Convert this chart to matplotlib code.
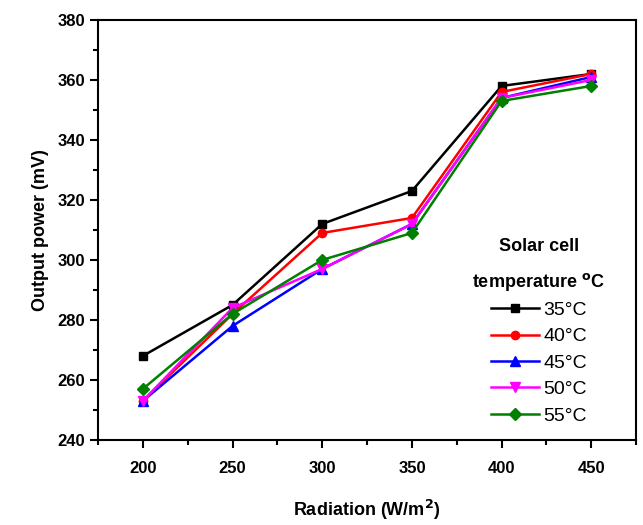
import matplotlib
matplotlib.use("Agg")
import matplotlib.pyplot as plt
from matplotlib.ticker import MultipleLocator

plt.rcParams['font.family'] = ['Liberation Sans', 'DejaVu Sans']

radiation = [200, 250, 300, 350, 400, 450]
labels = ["35°C", "40°C", "45°C", "50°C", "55°C"]
power_35 = [268, 285, 312, 323, 358, 362]
power_40 = [253, 282, 309, 314, 356, 362]
power_45 = [253, 278, 297, 312, 354, 361]
power_50 = [253, 284, 297, 312, 354, 360]
power_55 = [257, 282, 300, 309, 353, 358]

series = [power_35, power_40, power_45, power_50, power_55]
colors = ["black", "red", "blue", "magenta", "green"]
markers = ["s", "o", "^", "v", "D"]
msizes = [6, 6, 7, 7, 6]

fig = plt.figure(figsize=(6.43, 5.25), dpi=100)
ax = fig.add_axes([0.1524, 0.162, 0.837, 0.800])

for vals, lab, c, m, ms in zip(series, labels, colors, markers, msizes):
    ax.plot(radiation, vals, color=c, marker=m, markersize=ms, linewidth=1.8, label=lab)

ax.set_xlim(175, 475)
ax.set_ylim(240, 380)
ax.xaxis.set_major_locator(MultipleLocator(50))
ax.xaxis.set_minor_locator(MultipleLocator(25))
ax.yaxis.set_major_locator(MultipleLocator(20))
ax.yaxis.set_minor_locator(MultipleLocator(10))
ax.tick_params(which='major', direction='out', length=6, width=1.5, labelsize=12)
ax.tick_params(axis='x', which='major', pad=9)
ax.tick_params(which='minor', direction='out', length=3.5, width=1.5)
for lbl in ax.get_xticklabels() + ax.get_yticklabels():
    lbl.set_fontweight('bold')
for sp in ax.spines.values():
    sp.set_linewidth(1.5)

ax.set_xlabel("Radiation (W/m$\\mathbf{^2}$)", fontsize=13, fontweight='bold', labelpad=16)
ax.set_ylabel("Output power (mV)", fontsize=13, fontweight='bold', labelpad=6)

leg = ax.legend(title="Solar cell\ntemperature $\\mathbf{^{o}}$C", frameon=False,
                loc='lower right', bbox_to_anchor=(0.975, -0.005), fontsize=14,
                handlelength=2.5, handletextpad=0.2, labelspacing=0.45)
leg.get_title().set_fontweight('bold')
leg.get_title().set_fontsize(13)
leg.get_title().set_linespacing(2.0)
leg.get_title().set_multialignment('center')
leg._legend_box.align = "center"

fig.savefig("out.png", dpi=100)
